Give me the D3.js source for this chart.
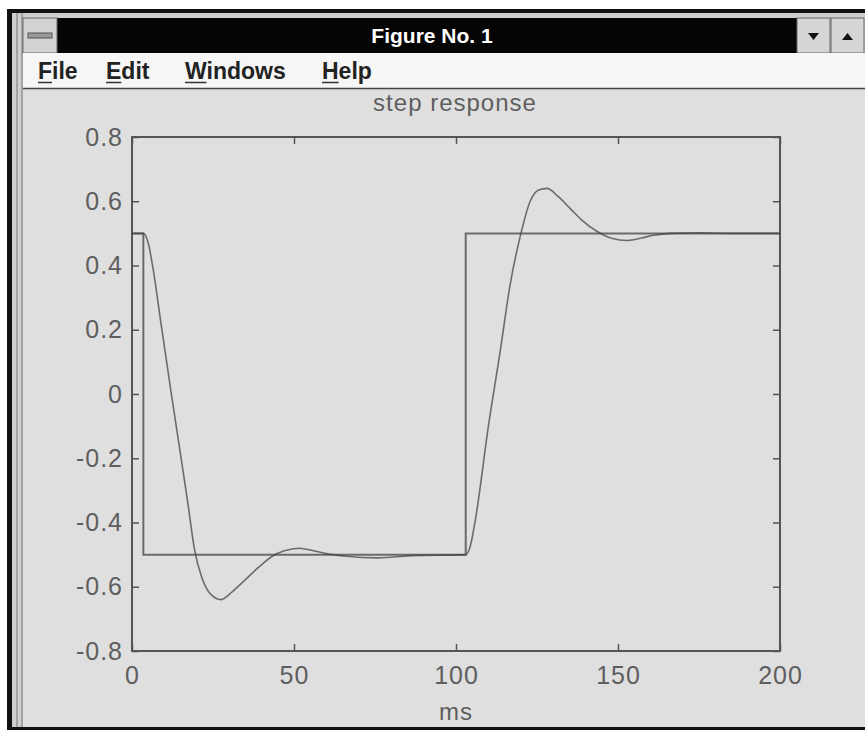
<!DOCTYPE html>
<html>
<head>
<meta charset="utf-8">
<script src="https://cdn.jsdelivr.net/npm/d3@7"></script>
<style>
  body { margin: 0; background: #fff; }
  svg { display: block; }
  .ui { font-family: "Liberation Sans", Arial, sans-serif; font-weight: bold; }
  .ax text { font-family: "Liberation Sans", Arial, sans-serif; fill: #5e5e5e; }
</style>
</head>
<body>
<svg id="fig" width="865" height="730"></svg>
<script>
// menu entries, first letter gets the mnemonic underline
var menuItems = ["File", "Edit", "Windows", "Help"];
var menuX = [38, 106, 185, 322];

var xTicks = [0, 50, 100, 150, 200];
var yTicks = [-0.8, -0.6, -0.4, -0.2, 0, 0.2, 0.4, 0.6, 0.8];

// square-wave input (ms, value)
var stepT = [0, 3.5, 3.5, 103, 103, 200];
var stepV = [0.5, 0.5, -0.5, -0.5, 0.5, 0.5];

// system response (ms, value)
var respT = [0, 3.5, 5, 6.5, 8.8, 12, 15.1, 17.1, 19.4, 21.5, 24, 27.5, 31, 35.2, 39, 43.3, 47, 51.6, 56, 60, 66, 76, 86, 103,
             104.5, 106, 110, 113.6, 116.7, 119.8, 122.9, 125.5, 128.1, 131.5, 135.2, 139, 143.6, 148, 152.9, 157, 161, 166, 175, 185, 200];
var respV = [0.5, 0.5, 0.47, 0.39, 0.23, 0.01, -0.196, -0.33, -0.49, -0.57, -0.62, -0.64, -0.615, -0.576, -0.54, -0.505, -0.488, -0.48, -0.488, -0.497, -0.505, -0.51, -0.503, -0.5,
             -0.47, -0.39, -0.1, 0.13, 0.34, 0.49, 0.6, 0.635, 0.64, 0.615, 0.578, 0.54, 0.506, 0.485, 0.478, 0.485, 0.494, 0.5, 0.502, 0.5, 0.5];

var svg = d3.select("#fig");

// ---- window chrome ----
svg.append("rect").attr("x", 7).attr("y", 9).attr("width", 858).attr("height", 721).attr("fill", "#111");
svg.append("rect").attr("x", 12).attr("y", 13).attr("width", 853).attr("height", 714).attr("fill", "#cfcfcf");
svg.append("path").attr("d", "M17,13V727M22,13V727").attr("stroke", "#777").attr("stroke-width", 1);
svg.append("rect").attr("x", 23).attr("y", 89).attr("width", 842).attr("height", 638).attr("fill", "#dfdfdf");

// title bar
svg.append("rect").attr("x", 57).attr("y", 18).attr("width", 740).attr("height", 35).attr("fill", "#050505");
svg.append("text").attr("class", "ui")
    .attr("x", 432).attr("y", 43)
    .attr("text-anchor", "middle")
    .attr("fill", "#fff")
    .style("font-size", "21px")
    .text("Figure No. 1");

// system box and min/max buttons
svg.append("rect").attr("x", 23).attr("y", 18).attr("width", 34).attr("height", 35).attr("fill", "#d2d2d2").attr("stroke", "#666");
svg.append("rect").attr("x", 28).attr("y", 33).attr("width", 24).attr("height", 5).attr("fill", "#999").attr("stroke", "#555");

var btn = svg.selectAll(".btn").data(["down", "up"]).enter().append("g")
    .attr("transform", function(d, i) { return "translate(" + (797 + i * 34) + ",18)"; });
btn.append("rect").attr("width", 33).attr("height", 35).attr("fill", "#d6d6d6").attr("stroke", "#666");
btn.append("path")
    .attr("d", function(d) { return d == "down" ? "M11,15h11l-5.5,7z" : "M11,22h11l-5.5,-7z"; })
    .attr("fill", "#111");

// menu bar
svg.append("rect").attr("x", 23).attr("y", 53).attr("width", 842).attr("height", 35).attr("fill", "#f6f6f6");
svg.append("path").attr("d", "M23,88.5H865").attr("stroke", "#444").attr("stroke-width", 1.5);

var menu = svg.selectAll(".menu").data(menuItems).enter().append("g")
    .attr("transform", function(d, i) { return "translate(" + menuX[i] + ",79)"; });
menu.append("text").attr("class", "ui")
    .attr("fill", "#222")
    .style("font-size", "23px")
    .text(function(d) { return d; });
menu.each(function() {
  var g = d3.select(this),
      t = g.select("text").node(),
      w = t.getSubStringLength(0, 1);
  g.append("path").attr("d", "M0,3.5H" + w).attr("stroke", "#333").attr("stroke-width", 1.5);
});

// ---- axes ----
var margin = {top: 137, right: 85, bottom: 79, left: 132},
    width = 865 - margin.left - margin.right,
    height = 730 - margin.top - margin.bottom;

var x = d3.scaleLinear().domain([0, 200]).range([0, width]);
var y = d3.scaleLinear().domain([-0.8, 0.8]).range([height, 0]);

var g = svg.append("g").attr("class", "ax")
    .attr("transform", "translate(" + margin.left + "," + margin.top + ")");

// plain hyphen for negatives, like the original
var fmt = function(d) { return String(+d.toFixed(1)); };

// bottom and left carry labels, top and right only inward ticks
var gx = g.append("g").attr("transform", "translate(0," + height + ")")
    .call(d3.axisBottom(x).tickValues(xTicks).tickSizeInner(-7).tickSizeOuter(0).tickPadding(14));
var gy = g.append("g")
    .call(d3.axisLeft(y).tickValues(yTicks).tickSizeInner(-7).tickSizeOuter(0).tickPadding(9).tickFormat(fmt));
g.append("g").call(d3.axisTop(x).tickValues(xTicks).tickSizeInner(-7).tickSizeOuter(0).tickFormat(""));
g.append("g").attr("transform", "translate(" + width + ",0)")
    .call(d3.axisRight(y).tickValues(yTicks).tickSizeInner(-7).tickSizeOuter(0).tickFormat(""));

g.selectAll(".domain").remove();
g.selectAll(".tick line").attr("stroke", "#555").attr("stroke-width", 1.5);
gx.selectAll("text").style("font-size", "25px").style("letter-spacing", "1px").attr("dy", "0.75em");
gy.selectAll("text").style("font-size", "25px").style("letter-spacing", "1px");

g.append("rect")
    .attr("width", width).attr("height", height)
    .attr("fill", "none").attr("stroke", "#555").attr("stroke-width", 2);

// ---- lines ----
var stepLine = d3.line()
    .x(function(d, i) { return x(stepT[i]); })
    .y(function(d) { return y(d); });
var respLine = d3.line()
    .curve(d3.curveMonotoneX)
    .x(function(d, i) { return x(respT[i]); })
    .y(function(d) { return y(d); });

g.append("path").datum(stepV)
    .attr("d", stepLine)
    .attr("fill", "none").attr("stroke", "#444").attr("stroke-opacity", 0.75).attr("stroke-width", 2);
g.append("path").datum(respV)
    .attr("d", respLine)
    .attr("fill", "none").attr("stroke", "#444").attr("stroke-opacity", 0.75).attr("stroke-width", 1.6);

// titles
g.append("text")
    .attr("x", 323).attr("y", -26)
    .attr("text-anchor", "middle")
    .style("font-size", "24px")
    .style("letter-spacing", "1px")
    .text("step response");
g.append("text")
    .attr("x", width / 2).attr("y", height + 69)
    .attr("text-anchor", "middle")
    .style("font-size", "24px")
    .style("letter-spacing", "1px")
    .text("ms");
</script>
</body>
</html>
